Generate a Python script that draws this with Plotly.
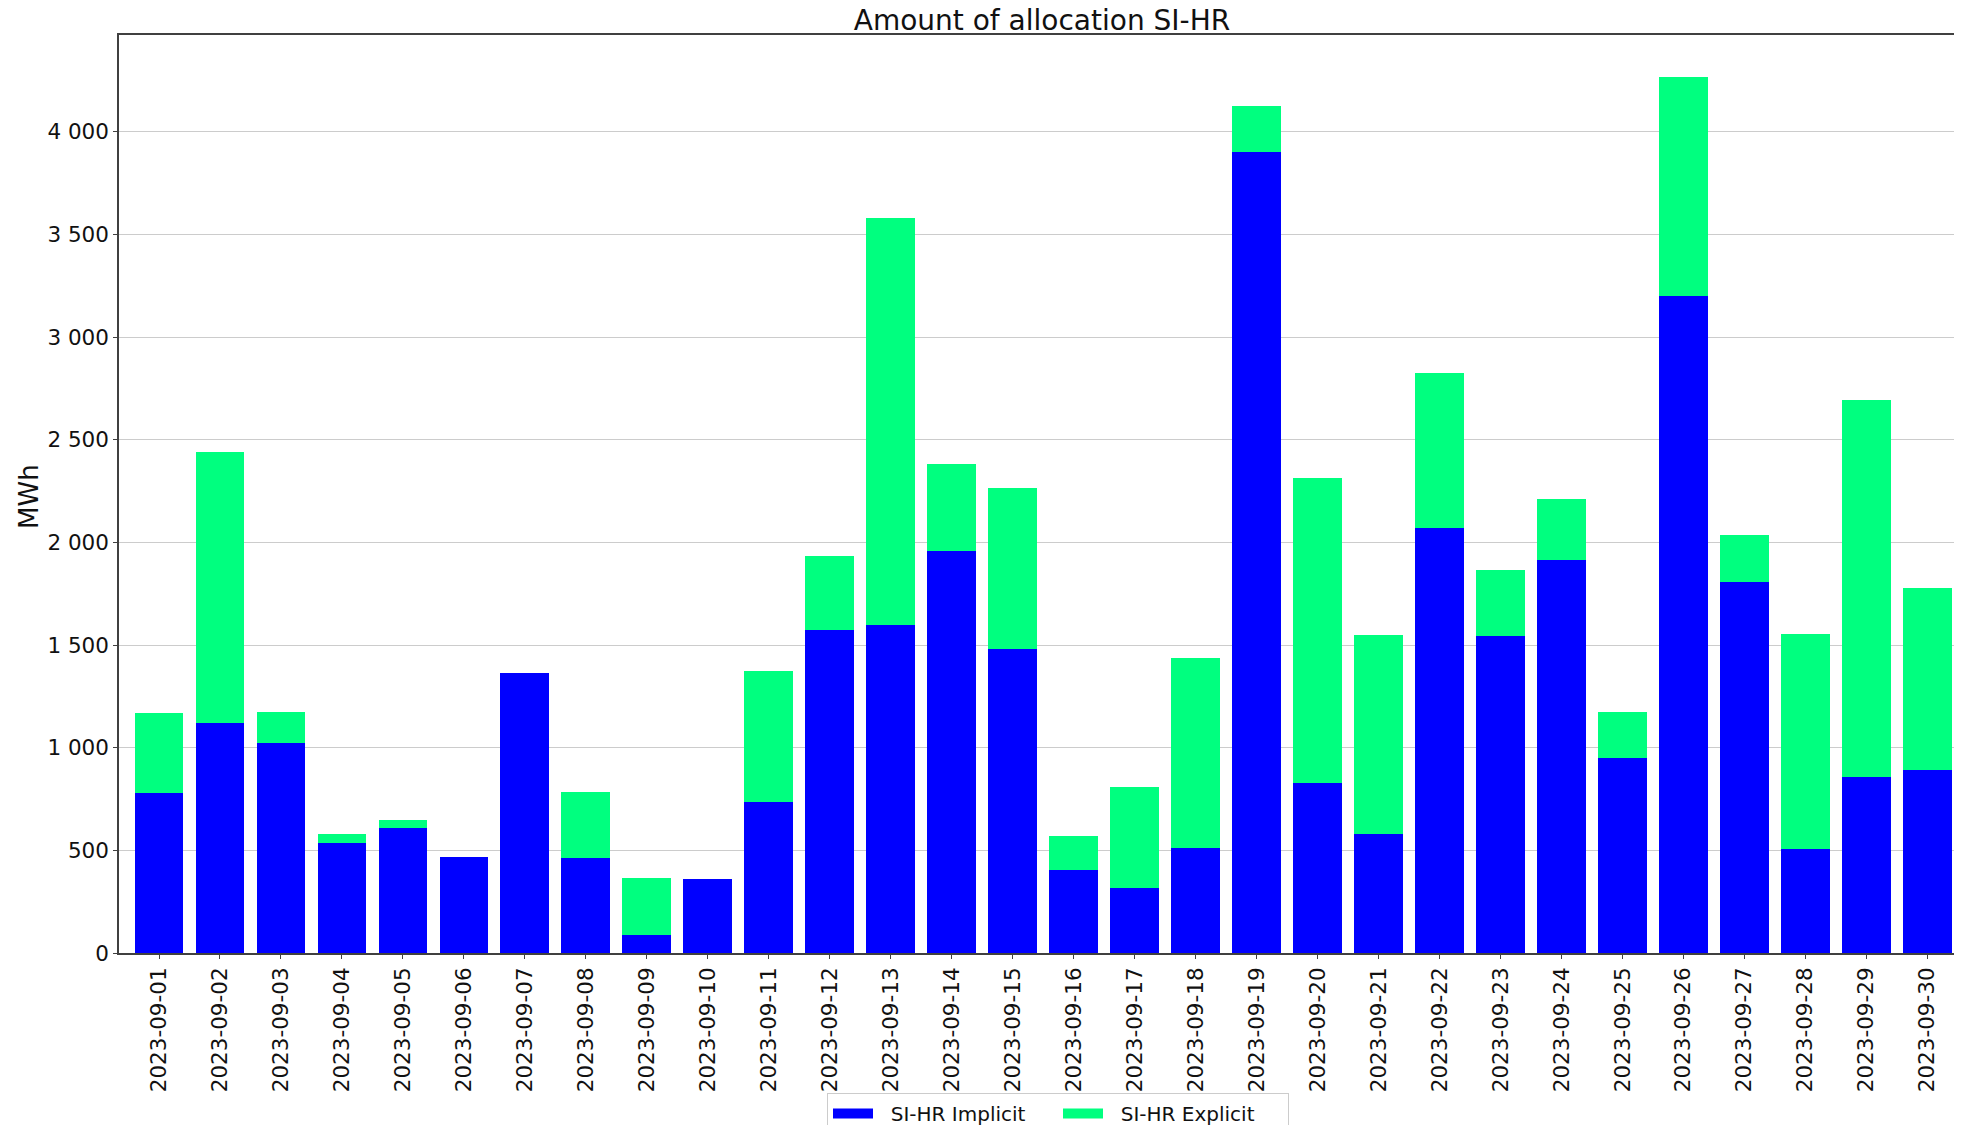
import plotly.graph_objects as go

dates = [f"2023-09-{d:02d}" for d in range(1, 31)]

implicit = [779, 1120, 1023, 535, 608, 469, 1364, 462, 89, 359,
            734, 1574, 1598, 1960, 1483, 405, 319, 512, 3904, 826,
            582, 2068, 1543, 1913, 949, 3200, 1807, 509, 856, 890]
total = [1171, 2441, 1174, 582, 646, 469, 1364, 786, 366, 359,
         1374, 1936, 3582, 2381, 2263, 568, 810, 1437, 4126, 2312,
         1548, 2825, 1866, 2213, 1173, 4269, 2037, 1554, 2696, 1776]
explicit = [t - i for t, i in zip(total, implicit)]

series_names = ["SI-HR Implicit", "SI-HR Explicit"]
series_colors = ["#0000FF", "#00FF7F"]

FONT = "DejaVu Sans"

fig = go.Figure()
for name, vals, col in zip(series_names, [implicit, explicit], series_colors):
    fig.add_trace(go.Bar(x=dates, y=vals, name=name, showlegend=False,
                         legendgroup=name,
                         marker=dict(color=col, line=dict(width=0))))
# legend entries with wide rectangular swatches
for name, col in zip(series_names, series_colors):
    fig.add_trace(go.Scatter(x=[None], y=[None], mode="lines",
                             name="\u00a0\u00a0" + name,
                             legendgroup=name,
                             line=dict(color=col, width=12)))

# page body has an 8px margin; figure sized to fit the viewport exactly
OFF = 8
W, H = 1962 - 2 * OFF, 1133 - 2 * OFF
L, T, R = 119 - OFF, 35 - OFF, 0
B = H - (953 - OFF)
plot_w = W - L - R
plot_h = H - T - B

fig.update_layout(
    width=W, height=H,
    barmode="stack", bargap=0.2,
    separators=". ",
    paper_bgcolor="white", plot_bgcolor="white",
    margin=dict(l=L, r=R, t=T, b=B, pad=0),
    font=dict(family=FONT, size=21.5, color="#111111"),
    title=dict(text="Amount of allocation SI-HR", font=dict(family=FONT, size=28, color="#111111"),
               x=(1042 - OFF) / W, xref="container", xanchor="center",
               y=1 - (20.5 - OFF) / H, yref="container", yanchor="middle"),
    legend=dict(orientation="h", xref="container", yref="container",
                x=(1058 - OFF) / W, xanchor="center",
                y=1 - (1093 - OFF) / H, yanchor="top",
                font=dict(family=FONT, size=20, color="#111111"),
                bordercolor="#cccccc", borderwidth=1,
                bgcolor="white", traceorder="normal", itemwidth=40,
                entrywidth=175),
    showlegend=True,
)

fig.update_xaxes(
    type="category", range=[-0.656, -0.656 + plot_w / 60.98], tickangle=-90,
    showline=True, linecolor="#404040", linewidth=1.5, mirror=True,
    ticks="outside", ticklen=4, tickcolor="#404040", tickwidth=1,
    showgrid=False, tickfont=dict(family=FONT, size=21.5), automargin=False,
)
fig.update_yaxes(
    range=[0, 4472], tickvals=[0, 500, 1000, 1500, 2000, 2500, 3000, 3500, 4000],
    tickformat=",d",
    showline=True, linecolor="#404040", linewidth=1.5, mirror=True,
    ticks="outside", ticklen=4, tickcolor="#404040", tickwidth=1,
    showgrid=True, gridcolor="#cccccc", gridwidth=1.2,
    zeroline=False, tickfont=dict(family=FONT, size=21.5), automargin=False,
)

fig.add_annotation(text="MWh", xref="paper", yref="paper",
                   x=(29 - 119) / plot_w, y=(953 - 497) / plot_h, textangle=-90,
                   xanchor="center", yanchor="middle", showarrow=False,
                   font=dict(family=FONT, size=26, color="#111111"))

fig.write_html("out.html")
